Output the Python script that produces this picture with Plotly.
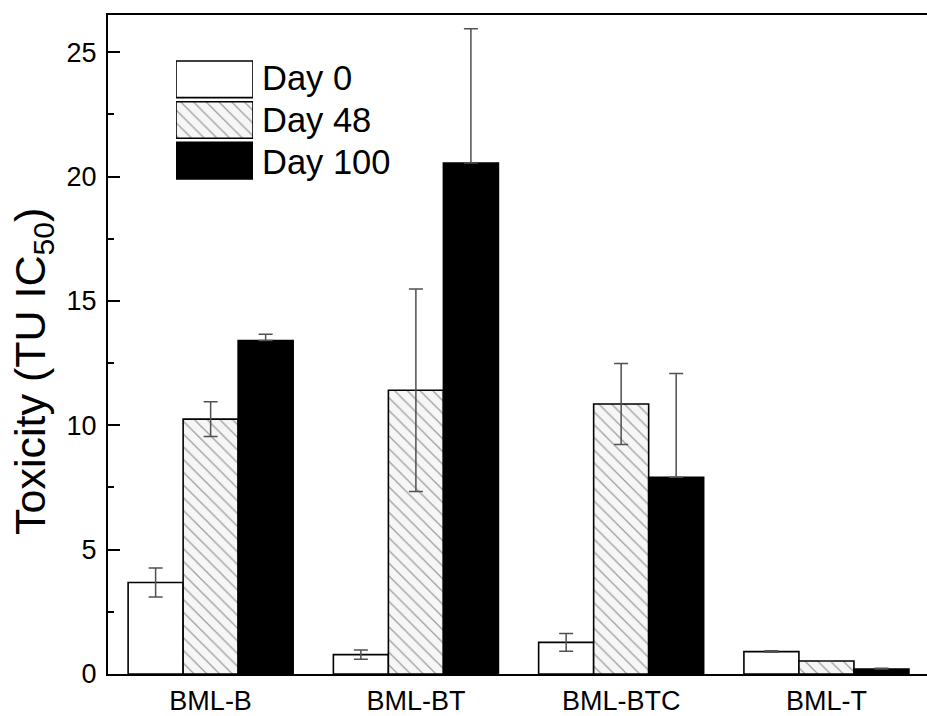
import plotly.graph_objects as go

categories = ["BML-B", "BML-BT", "BML-BTC", "BML-T"]
series_names = ["Day 0", "Day 48", "Day 100"]
day0 = [3.68, 0.78, 1.27, 0.90]
day0_err = [0.58, 0.19, 0.36, 0.03]
day48 = [10.25, 11.41, 10.86, 0.52]
day48_err = [0.70, 4.07, 1.63, 0.0]
day100 = [13.41, 20.55, 7.91, 0.20]
day100_err = [0.25, 5.40, 4.17, 0.03]
y_title = "Toxicity (TU IC<sub>50</sub>)"

FONT = "Liberation Sans, Arial, sans-serif"
ERR_COLOR = "#505050"
HATCH = dict(shape="\\", fgcolor="#444444", bgcolor="#f6f6f6", size=9, solidity=0.14)

W, H = 927, 716
ML, MR, MT, MB = 108, 0, 15, 42
PW, PH = W - ML - MR, H - MT - MB

def px_x(p):
    return (p - ML) / PW

def px_y(p):
    return (H - MB - p) / PH

fig = go.Figure()

fig.add_trace(go.Bar(
    name=series_names[0], x=categories, y=day0,
    marker=dict(color="white", line=dict(color="black", width=1.6)),
    error_y=dict(type="data", array=day0_err, color=ERR_COLOR, thickness=1.5, width=7),
    showlegend=False,
))
fig.add_trace(go.Bar(
    name=series_names[1], x=categories, y=day48,
    marker=dict(color="#f6f6f6", pattern=HATCH, line=dict(color="black", width=1.6)),
    error_y=dict(type="data", array=day48_err, color=ERR_COLOR, thickness=1.5, width=7),
    showlegend=False,
))
fig.add_trace(go.Bar(
    name=series_names[2], x=categories, y=day100,
    marker=dict(color="black", line=dict(color="black", width=1.6)),
    error_y=dict(type="data", symmetric=False, array=day100_err,
                 arrayminus=[0] * len(day100_err), color=ERR_COLOR, thickness=1.5, width=7),
    showlegend=False,
))

# Legend drawn as boxes on an inset axis
legend_markers = [
    dict(color="white", line=dict(color="black", width=1.6)),
    dict(color="#f6f6f6", pattern=HATCH, line=dict(color="black", width=1.6)),
    dict(color="black", line=dict(color="black", width=1.6)),
]
for i, (nm, mk) in enumerate(zip(series_names, legend_markers)):
    fig.add_trace(go.Bar(
        orientation="h", x=[1], y=[i], base=0, width=0.9, offset=-0.45,
        marker=mk, xaxis="x2", yaxis="y2", showlegend=False, hoverinfo="skip",
    ))

row_centers = [78, 119.5, 162]
for nm, yc in zip(series_names, row_centers):
    fig.add_annotation(
        text=nm, xref="paper", yref="paper", x=px_x(260), y=px_y(yc),
        xanchor="left", yanchor="middle", showarrow=False,
        font=dict(family=FONT, size=34.5, color="black"),
    )

fig.add_annotation(
    text=y_title, xref="paper", yref="paper", x=px_x(33), y=px_y(372),
    xanchor="center", yanchor="middle", textangle=-90, showarrow=False,
    font=dict(family=FONT, size=43, color="black"),
)

fig.update_layout(
    width=W, height=H,
    margin=dict(l=ML, r=MR, t=MT, b=MB, pad=0),
    paper_bgcolor="white", plot_bgcolor="white",
    barmode="group", bargap=0.196, bargroupgap=0,
    font=dict(family=FONT, size=27, color="black"),
    xaxis=dict(
        range=[-0.5, 3.49], showline=True, linecolor="black", linewidth=2.3,
        mirror=True, ticks="", showgrid=False, zeroline=False,
        tickfont=dict(size=27), ticklabelstandoff=1,
    ),
    yaxis=dict(
        range=[0, 26.5], dtick=5, showline=True, linecolor="black", linewidth=2.3,
        mirror=False, ticks="inside", ticklen=12, tickwidth=2, tickcolor="black",
        minor=dict(dtick=2.5, ticks="inside", ticklen=6, tickwidth=2, tickcolor="black"),
        showgrid=False, zeroline=False, tickfont=dict(size=27), ticklabelstandoff=4,
    ),
    yaxis3=dict(
        range=[0, 26.5], dtick=5, overlaying="y", side="right", anchor="x",
        showline=False, ticks="inside", ticklen=12, tickwidth=2, tickcolor="black",
        minor=dict(dtick=2.5, ticks="inside", ticklen=6, tickwidth=2, tickcolor="black"),
        showticklabels=False, showgrid=False, zeroline=False,
    ),
    xaxis2=dict(domain=[px_x(176), px_x(253)], anchor="y2", range=[0, 1], visible=False),
    yaxis2=dict(domain=[px_y(181), px_y(59)], anchor="x2", range=[2.5, -0.5], visible=False),
)

fig.write_html("out.html")
